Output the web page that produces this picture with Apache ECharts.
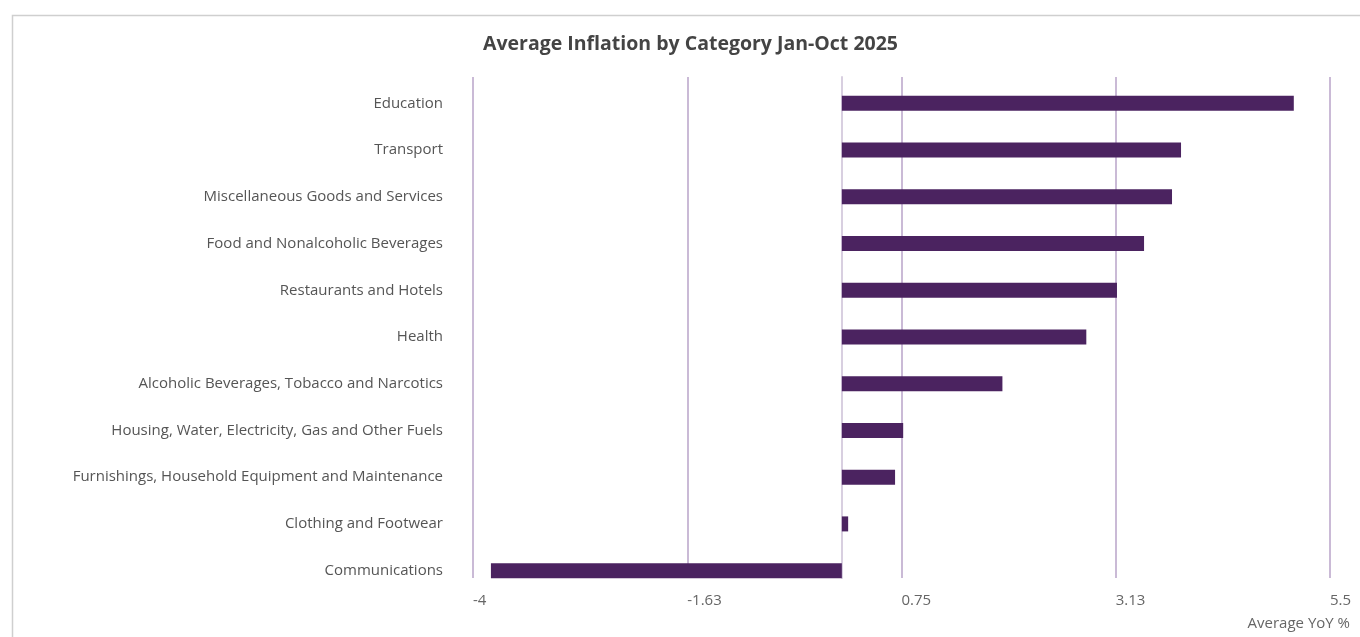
<!DOCTYPE html>
<html>
<head>
<meta charset="utf-8">
<script src="https://cdn.jsdelivr.net/npm/echarts@6/dist/echarts.min.js"></script>
<style>html,body{margin:0;padding:0;background:#fff;}#c{width:1360px;height:637px;}</style>
</head>
<body>
<div id="c"></div>
<script>
const categories = [
  'Education',
  'Transport',
  'Miscellaneous Goods and Services',
  'Food and Nonalcoholic Beverages',
  'Restaurants and Hotels',
  'Health',
  'Alcoholic Beverages, Tobacco and Narcotics',
  'Housing, Water, Electricity, Gas and Other Fuels',
  'Furnishings, Household Equipment and Maintenance',
  'Clothing and Footwear',
  'Communications'
];
const values = [5.01, 3.76, 3.66, 3.35, 3.05, 2.71, 1.78, 0.68, 0.59, 0.07, -3.89];
const tickLabels = ['-4', '-1.63', '0.75', '3.13', '5.5'];
const axisMin = -4, axisMax = 5.5, axisStep = 2.375;

const chart = echarts.init(document.getElementById('c'), null, {renderer: 'canvas'});
const FONT = '"Open Sans"';
chart.setOption({
  animation: false,
  backgroundColor: '#ffffff',
  title: {
    text: 'Average Inflation by Category Jan-Oct 2025',
    left: 478, top: 29,
    textStyle: {fontFamily: FONT, fontSize: 19.5, fontWeight: 'bold', color: '#444444'}
  },
  graphic: [{
    type: 'rect', left: 10, top: 13, silent: true,
    shape: {width: 1400, height: 700},
    style: {fill: 'none', stroke: '#cfcfcf', lineWidth: 1.5}
  }],
  grid: [
    {left: 473, width: 857, top: 77, height: 501},
    {left: 481, width: 857, top: 80, height: 514},
    {left: 481, width: 857, top: 77, height: 501}
  ],
  xAxis: [
    {
      gridIndex: 0, type: 'value', min: axisMin, max: axisMax, interval: axisStep,
      axisLine: {show: false}, axisTick: {show: false},
      splitLine: {show: true, lineStyle: {color: '#b8a3c8', width: 1.5}},
      axisLabel: {
        show: true, align: 'left', margin: 15, showMinLabel: true, showMaxLabel: true,
        fontFamily: FONT, fontSize: 15, color: '#666666',
        formatter: (v, i) => tickLabels[i]
      },
      name: 'Average YoY %', nameLocation: 'end', nameGap: 20,
      nameTextStyle: {fontFamily: FONT, fontSize: 15, color: '#666666', align: 'right', verticalAlign: 'top', padding: [38, 0, 0, 0]}
    },
    {
      gridIndex: 1, type: 'value', min: axisMin, max: axisMax,
      axisLine: {show: false}, axisTick: {show: false}, axisLabel: {show: false}, splitLine: {show: false}
    },
    {
      gridIndex: 2, type: 'value', min: axisMin, max: axisMax,
      axisLine: {show: false}, axisTick: {show: false}, axisLabel: {show: false}, splitLine: {show: false}
    }
  ],
  yAxis: [
    {gridIndex: 0, type: 'value', min: 0, max: 1, show: false},
    {
      gridIndex: 1, type: 'category', data: categories, inverse: true,
      axisLine: {show: false}, axisTick: {show: false}, splitLine: {show: false},
      axisLabel: {margin: 38, fontFamily: FONT, fontSize: 15, color: '#555555', padding: [5, 0, 0, 0]}
    },
    {
      gridIndex: 2, type: 'value', min: 0, max: 1,
      axisLine: {show: true, onZero: true, lineStyle: {color: '#d8cfe0', width: 2}},
      axisTick: {show: false}, axisLabel: {show: false}, splitLine: {show: false}
    }
  ],
  series: [{
    type: 'bar', xAxisIndex: 1, yAxisIndex: 1,
    data: values, barWidth: 15,
    itemStyle: {color: '#4b2360'}
  }]
});
</script>
</body>
</html>
